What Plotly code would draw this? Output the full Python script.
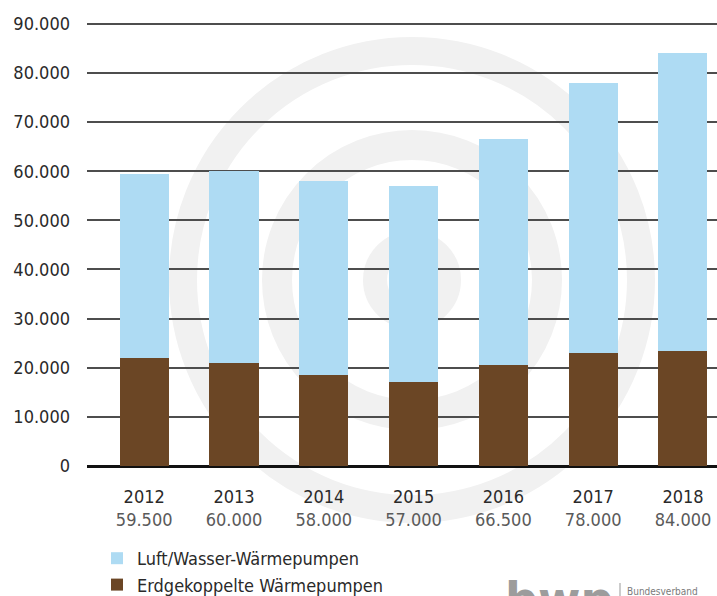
import plotly.graph_objects as go

years = ["2012", "2013", "2014", "2015", "2016", "2017", "2018"]
totals = [59500, 60000, 58000, 57000, 66500, 78000, 84000]
erdgekoppelt = [22000, 21000, 18500, 17000, 20500, 23000, 23500]
luft_wasser = [t - e for t, e in zip(totals, erdgekoppelt)]
y_ticks = [0, 10000, 20000, 30000, 40000, 50000, 60000, 70000, 80000, 90000]


def de(n):
    return f"{n:,}".replace(",", ".")


FONT = "DejaVu Sans Condensed, DejaVu Sans, sans-serif"
W, H = 717, 596
L, R, T, B = 87, 0, 14, 130
PW, PH = W - L - R, H - T - B


def px(x):
    return (x - L) / PW


def py(y):
    return (H - B - y) / PH


x_ticktext = [f"{y}<br><span style='color:#5a5a5a'>{de(t)}</span>" for y, t in zip(years, totals)]

fig = go.Figure()
fig.add_trace(go.Bar(x=years, y=erdgekoppelt, name="Erdgekoppelte Wärmepumpen",
                     marker=dict(color="#6b4625", line=dict(width=0)), width=0.546))
fig.add_trace(go.Bar(x=years, y=luft_wasser, name="Luft/Wasser-Wärmepumpen",
                     marker=dict(color="#aedbf3", line=dict(width=0)), width=0.546))

# watermark rings (decoration)
shapes = []
cx, cy = 412, 280
for r, w in [(229, 28), (135, 30), (37, 24)]:
    shapes.append(dict(type="circle", xref="paper", yref="paper",
                       x0=px(cx - r), x1=px(cx + r), y0=py(cy + r), y1=py(cy - r),
                       line=dict(color="#f1f1f1", width=w), fillcolor="rgba(0,0,0,0)",
                       layer="below"))
shapes.append(dict(type="line", xref="paper", yref="paper",
                   x0=px(620), x1=px(620), y0=py(583), y1=py(600),
                   line=dict(color="#999", width=1)))

annotations = [
    dict(x=px(503), xref="paper", y=py(570), yref="paper", text="<b>bwp</b>",
         showarrow=False, xanchor="left", yanchor="top",
         font=dict(family="DejaVu Sans, sans-serif", size=46, color="#9c9c9c")),
    dict(x=px(625), xref="paper", y=py(591), yref="paper", text="Bundesverband",
         showarrow=False, xanchor="left", yanchor="middle",
         font=dict(family=FONT, size=10, color="#7a7a7a")),
]

fig.update_layout(
    width=W, height=H, autosize=False,
    margin=dict(l=L, r=R, t=T, b=B, autoexpand=False),
    barmode="stack",
    paper_bgcolor="white", plot_bgcolor="rgba(0,0,0,0)",
    shapes=shapes, annotations=annotations,
    showlegend=True,
    legend=dict(x=px(97), y=py(540), xanchor="left", yanchor="top",
                orientation="v", traceorder="reversed",
                font=dict(family=FONT, size=18, color="#2a2a2a"),
                bgcolor="rgba(0,0,0,0)", tracegroupgap=0),
    xaxis=dict(range=[-0.637, 6.379], showgrid=False, showline=False, automargin=False,
               tickvals=years, ticktext=x_ticktext,
               ticks="", tickfont=dict(family=FONT, size=18, color="#2a2a2a"),
               ticklabelstandoff=18, fixedrange=True),
    yaxis=dict(range=[0, 92000], tickvals=y_ticks, ticktext=[de(v) for v in y_ticks],
               automargin=False,
               showgrid=True, gridcolor="#4d4d4d", gridwidth=2,
               zeroline=True, zerolinecolor="#111", zerolinewidth=2.5,
               showline=False, ticks="",
               tickfont=dict(family=FONT, size=18, color="#2a2a2a"),
               ticklabelstandoff=16, fixedrange=True),
)

fig.write_html("out.html", config={"displayModeBar": False},
               post_script="document.body.style.margin='0';document.body.style.overflow='hidden';")
